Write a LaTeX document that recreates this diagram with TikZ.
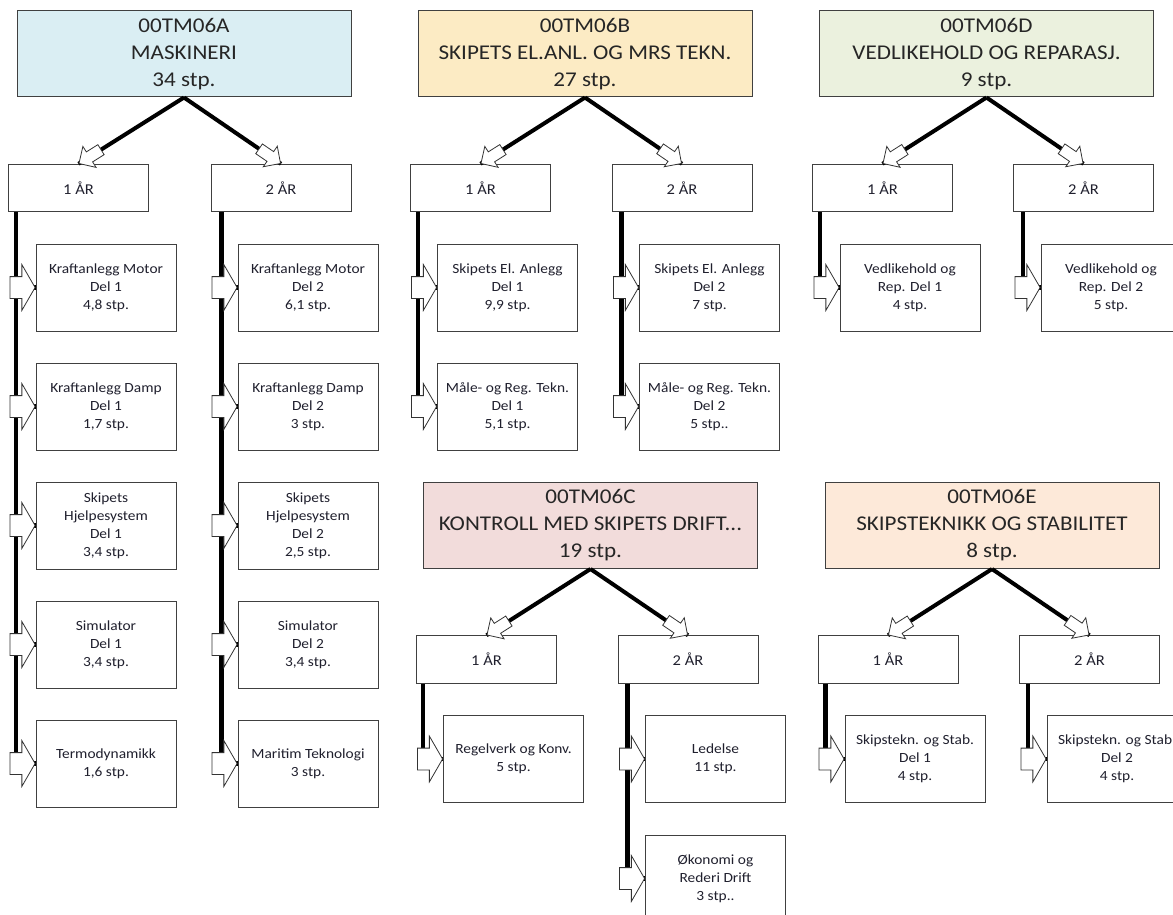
\documentclass[tikz,border=0pt]{standalone}
\usepackage{fontspec}
\setmainfont{Carlito}[FakeStretch=1.1]
\usetikzlibrary{shapes,arrows,positioning}

\definecolor{blueA}{HTML}{DAEEF3}
\definecolor{yellowB}{HTML}{FCEBC4}
\definecolor{pinkC}{HTML}{F2DCDB}
\definecolor{greenD}{HTML}{EBF1DE}
\definecolor{peachE}{HTML}{FDE9D9}
\definecolor{rim}{HTML}{404040}
\definecolor{ink}{HTML}{20202E}

\begin{document}
\begin{tikzpicture}[x=1pt, y=-1pt]
			\tikzstyle{Title}	= [rectangle, draw=rim, line width=1pt, minimum width=334pt, minimum height=86pt, inner sep=0pt, align=center, font=\fontsize{21}{27}\selectfont, text=black!85]
			\tikzstyle{Year}	= [rectangle, draw=rim, line width=0.9pt, fill=white, minimum width=140pt, minimum height=47.5pt, inner sep=0pt, font=\fontsize{15}{18}\selectfont, text=ink]
			\tikzstyle{Course}	= [rectangle, draw=rim, line width=0.9pt, fill=white, minimum width=140pt, minimum height=87pt, inner sep=0pt, align=center, font=\fontsize{14}{18}\selectfont, text=ink]
			\tikzstyle{Link}	= [line width=4pt, black]
			\tikzstyle{Trunk}	= [line width=4.5pt, black]
			\tikzstyle{DiagHead}	= [single arrow, draw=black!80, line width=0.8pt, fill=white, inner xsep=0pt, inner ysep=5.5pt, minimum height=26pt, single arrow head extend=6.5pt, single arrow tip angle=90, sloped, allow upside down, anchor=tip]
			\tikzstyle{SideHead}	= [single arrow, draw=black!80, line width=0.8pt, fill=white, inner xsep=0pt, inner ysep=10.5pt, minimum height=25pt, single arrow head extend=12pt, single arrow tip angle=120, sloped, allow upside down, anchor=tip]

			\useasboundingbox (0,0) rectangle (1173,915);
			\clip (0,0) rectangle (1173,915);

			% 00TM06A
			\node (a) at (184,54) [Title, fill=blueA] {00TM06A\\MASKINERI\\34 stp.};
			\node (a1) at (78.5,188) [Year] {1 ÅR};
			\node (a2) at (281,188) [Year] {2 ÅR};
			\node (a11) at (106,287.5) [Course] {Kraftanlegg Motor\\Del 1\\4,8 stp.};
			\node (a12) at (106,406.5) [Course] {Kraftanlegg Damp\\Del 1\\1,7 stp.};
			\node (a13) at (106,525.5) [Course] {Skipets\\Hjelpesystem\\Del 1\\3,4 stp.};
			\node (a14) at (106,644.5) [Course] {Simulator\\Del 1\\3,4 stp.};
			\node (a15) at (106,763.5) [Course] {Termodynamikk\\1,6 stp.};
			\node (a21) at (308,287.5) [Course] {Kraftanlegg Motor\\Del 2\\6,1 stp.};
			\node (a22) at (308,406.5) [Course] {Kraftanlegg Damp\\Del 2\\3 stp.};
			\node (a23) at (308,525.5) [Course] {Skipets\\Hjelpesystem\\Del 2\\2,5 stp.};
			\node (a24) at (308,644.5) [Course] {Simulator\\Del 2\\3,4 stp.};
			\node (a25) at (308,763.5) [Course] {Maritim Teknologi\\3 stp.};

			% 00TM06B
			\node (b) at (585,54) [Title, fill=yellowB] {00TM06B\\SKIPETS EL.ANL. OG MRS TEKN.\\27 stp.};
			\node (b1) at (480.5,188) [Year] {1 ÅR};
			\node (b2) at (682,188) [Year] {2 ÅR};
			\node (b11) at (507.5,287.5) [Course] {Skipets El. Anlegg\\Del 1\\9,9 stp.};
			\node (b12) at (507.5,406.5) [Course] {Måle- og Reg. Tekn.\\Del 1\\5,1 stp.};
			\node (b21) at (709.5,287.5) [Course] {Skipets El. Anlegg\\Del 2\\7 stp.};
			\node (b22) at (709.5,406.5) [Course] {Måle- og Reg. Tekn.\\Del 2\\5 stp..};

			% 00TM06D
			\node (d) at (986.5,54) [Title, fill=greenD] {00TM06D\\VEDLIKEHOLD OG REPARASJ.\\9 stp.};
			\node (d1) at (882.5,188) [Year] {1 ÅR};
			\node (d2) at (1083.5,188) [Year] {2 ÅR};
			\node (d11) at (910,287.5) [Course] {Vedlikehold og\\Rep. Del 1\\4 stp.};
			\node (d21) at (1111,287.5) [Course] {Vedlikehold og\\Rep. Del 2\\5 stp.};

			% 00TM06C
			\node (c) at (590.5,525.5) [Title, fill=pinkC] {00TM06C\\KONTROLL MED SKIPETS DRIFT...\\19 stp.};
			\node (c1) at (486.5,659.5) [Year] {1 ÅR};
			\node (c2) at (688,659.5) [Year] {2 ÅR};
			\node (c11) at (513.5,759) [Course] {Regelverk og Konv.\\5 stp.};
			\node (c21) at (715.5,759) [Course] {Ledelse\\11 stp.};
			\node (c22) at (715.5,878.5) [Course] {Økonomi og\\Rederi Drift\\3 stp..};

			% 00TM06E
			\node (e) at (992,525.5) [Title, fill=peachE] {00TM06E\\SKIPSTEKNIKK OG STABILITET\\8 stp.};
			\node (e1) at (888,659.5) [Year] {1 ÅR};
			\node (e2) at (1089.5,659.5) [Year] {2 ÅR};
			\node (e11) at (915,759) [Course] {Skipstekn. og Stab.\\Del 1\\4 stp.};
			\node (e21) at (1117,759) [Course] {Skipstekn. og Stab.\\Del 2\\4 stp.};

			% module -> year
			\draw [Link] (a.south) to node [pos=1, DiagHead] {} (a1.north);
			\draw [Link] (a.south) to node [pos=1, DiagHead] {} (a2.north);
			\draw [Link] (b.south) to node [pos=1, DiagHead] {} (b1.north);
			\draw [Link] (b.south) to node [pos=1, DiagHead] {} (b2.north);
			\draw [Link] (d.south) to node [pos=1, DiagHead] {} (d1.north);
			\draw [Link] (d.south) to node [pos=1, DiagHead] {} (d2.north);
			\draw [Link] (c.south) to node [pos=1, DiagHead] {} (c1.north);
			\draw [Link] (c.south) to node [pos=1, DiagHead] {} (c2.north);
			\draw [Link] (e.south) to node [pos=1, DiagHead] {} (e1.north);
			\draw [Link] (e.south) to node [pos=1, DiagHead] {} (e2.north);

			% year -> course (lowest first, so the heads lie on top)
			\draw [Trunk] ([xshift=8pt]a1.south west) |- node [pos=1, SideHead] {} (a15.west);
			\draw [Trunk] ([xshift=8pt]a1.south west) |- node [pos=1, SideHead] {} (a14.west);
			\draw [Trunk] ([xshift=8pt]a1.south west) |- node [pos=1, SideHead] {} (a13.west);
			\draw [Trunk] ([xshift=8pt]a1.south west) |- node [pos=1, SideHead] {} (a12.west);
			\draw [Trunk] ([xshift=8pt]a1.south west) |- node [pos=1, SideHead] {} (a11.west);
			\draw [Trunk] ([xshift=11pt]a2.south west) |- node [pos=1, SideHead] {} (a25.west);
			\draw [Trunk] ([xshift=11pt]a2.south west) |- node [pos=1, SideHead] {} (a24.west);
			\draw [Trunk] ([xshift=11pt]a2.south west) |- node [pos=1, SideHead] {} (a23.west);
			\draw [Trunk] ([xshift=11pt]a2.south west) |- node [pos=1, SideHead] {} (a22.west);
			\draw [Trunk] ([xshift=11pt]a2.south west) |- node [pos=1, SideHead] {} (a21.west);
			\draw [Trunk] ([xshift=8pt]b1.south west) |- node [pos=1, SideHead] {} (b12.west);
			\draw [Trunk] ([xshift=8pt]b1.south west) |- node [pos=1, SideHead] {} (b11.west);
			\draw [Trunk] ([xshift=10pt]b2.south west) |- node [pos=1, SideHead] {} (b22.west);
			\draw [Trunk] ([xshift=10pt]b2.south west) |- node [pos=1, SideHead] {} (b21.west);
			\draw [Trunk] ([xshift=8pt]d1.south west) |- node [pos=1, SideHead] {} (d11.west);
			\draw [Trunk] ([xshift=10pt]d2.south west) |- node [pos=1, SideHead] {} (d21.west);
			\draw [Trunk] ([xshift=7pt]c1.south west) |- node [pos=1, SideHead] {} (c11.west);
			\draw [Trunk] ([xshift=10pt]c2.south west) |- node [pos=1, SideHead] {} (c22.west);
			\draw [Trunk] ([xshift=10pt]c2.south west) |- node [pos=1, SideHead] {} (c21.west);
			\draw [Trunk] ([xshift=8pt]e1.south west) |- node [pos=1, SideHead] {} (e11.west);
			\draw [Trunk] ([xshift=9pt]e2.south west) |- node [pos=1, SideHead] {} (e21.west);
		\end{tikzpicture}
\end{document}
